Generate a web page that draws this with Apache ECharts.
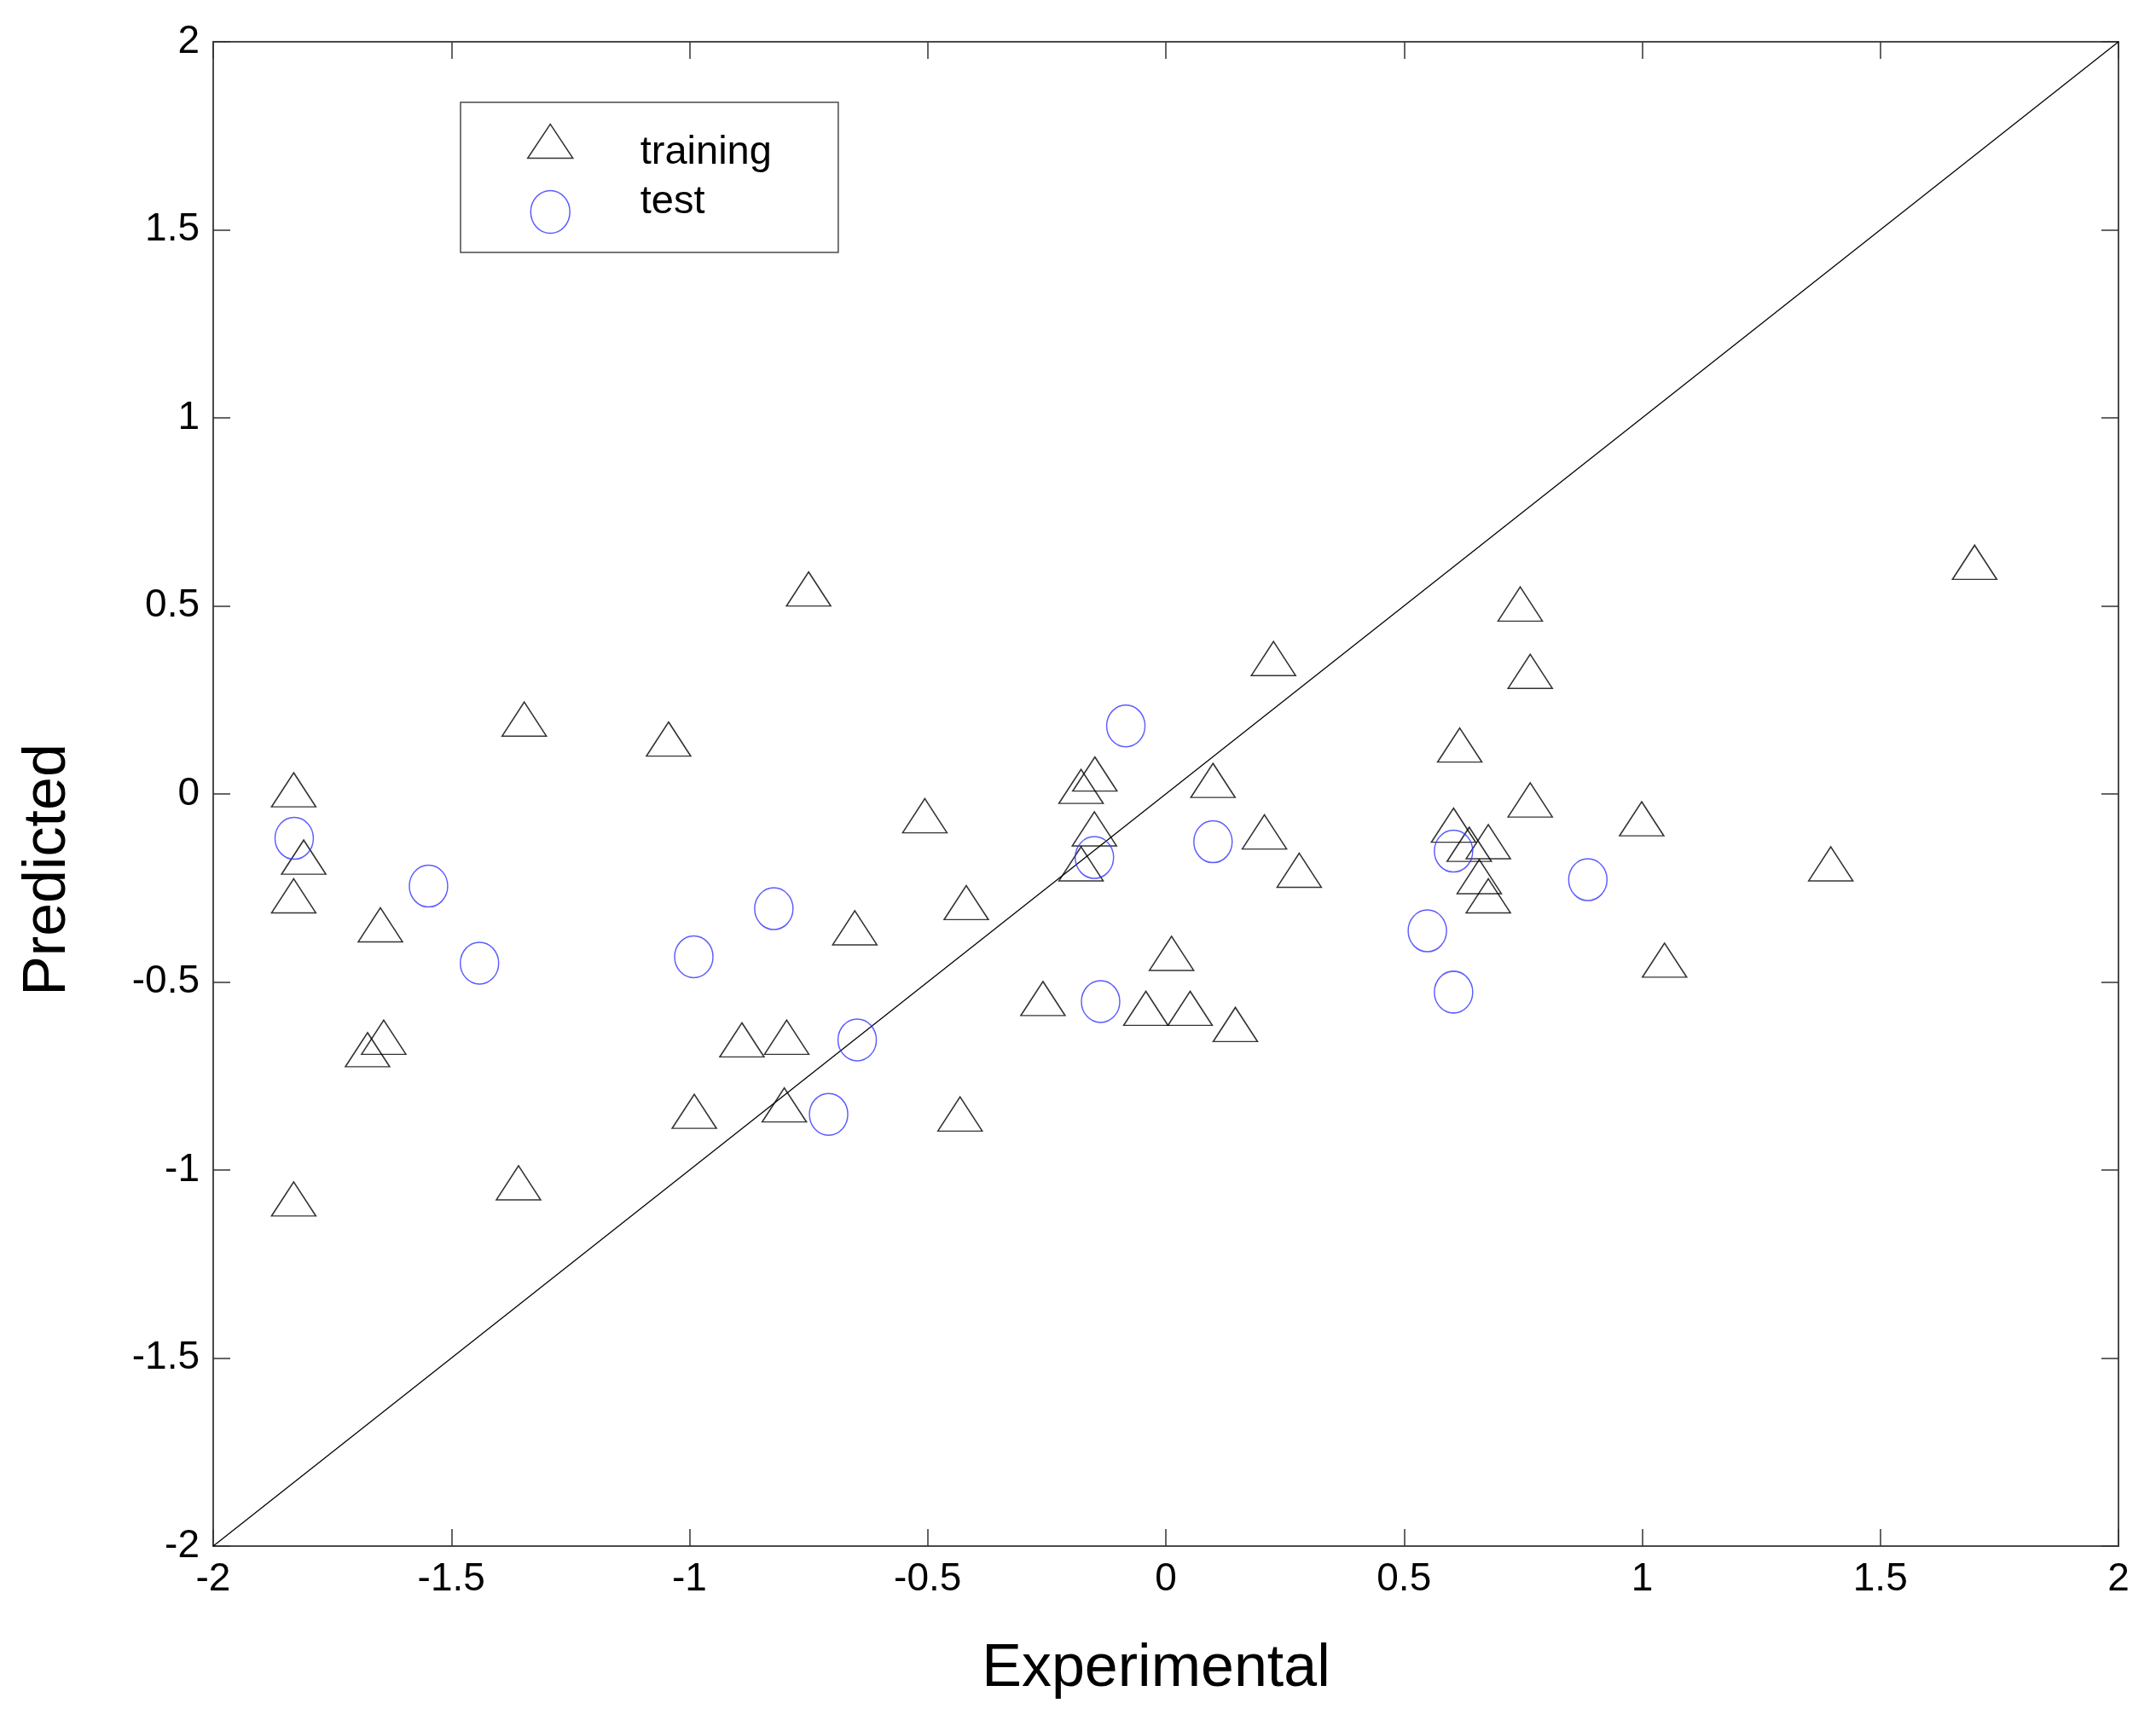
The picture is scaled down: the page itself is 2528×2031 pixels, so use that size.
<!DOCTYPE html>
<html>
<head>
<meta charset="utf-8">
<title>Experimental vs Predicted</title>
<script src="https://cdn.jsdelivr.net/npm/echarts@6/dist/echarts.min.js"></script>
<style>
  html, body { margin: 0; padding: 0; background: #ffffff; }
  #chart { width: 2528px; height: 2031px; }
</style>
</head>
<body>
<div id="chart"></div>
<script>
// ---- data ----
const trainingExperimental = [
  -0.750, -1.347, -1.044, -1.831, -1.810, -1.831, -1.649, -1.676, -1.642, -0.890,
  -0.796, -0.990, -0.801, -1.831, -1.359,  0.226, -0.149, -0.178,  0.099, -0.506,
  -0.150, -0.178,  0.207,  0.280, -0.419, -0.653,  0.012, -0.258, -0.042,  0.051,
   0.146, -0.432,  0.617,  0.604,  0.637,  0.677,  0.658,  0.677,  0.744,  0.765,
   0.765,  0.999,  1.047,  1.396,  1.698
];
const trainingPredicted = [
   0.545,  0.199,  0.146,  0.011, -0.168, -0.271, -0.348, -0.680, -0.647, -0.654,
  -0.647, -0.844, -0.827, -1.077, -1.034,  0.360,  0.053,  0.020,  0.036, -0.058,
  -0.093, -0.186, -0.101, -0.203, -0.289, -0.356, -0.424, -0.544, -0.570, -0.570,
  -0.613, -0.851,  0.130, -0.083, -0.134, -0.127, -0.220, -0.271,  0.505,  0.326,
  -0.016, -0.066, -0.442, -0.186,  0.616
];
const testExperimental = [
  -1.830, -1.548, -1.441, -0.991, -0.823, -0.648, -0.708, -0.084, -0.150,  0.099,
  -0.137,  0.604,  0.549,  0.604,  0.886
];
const testPredicted = [
  -0.118, -0.245, -0.450, -0.433, -0.305, -0.654, -0.852,  0.181, -0.169, -0.127,
  -0.552, -0.152, -0.364, -0.527, -0.228
];
const identityLine = [[-2, -2], [2, 2]];
const axisMin = -2;
const axisMax = 2;
const tickStep = 0.5;
const seriesNames = ['training', 'test'];
const axisTitles = { x: 'Experimental', y: 'Predicted' };

// ---- build ----
const zip = (a, b) => a.map((v, i) => [v, b[i]]);
const FONT = "'Liberation Sans', Arial, Helvetica, sans-serif";
const ELLIPSE = 'path://M0,24.5 A22.5,24.5 0 1,1 45,24.5 A22.5,24.5 0 1,1 0,24.5 Z';
const LEGEND_TRI = 'path://M0,0 M53,50 M0,45 L26.5,5 L53,45 Z';
const frameLine = { show: true, onZero: false, lineStyle: { color: '#4a4a4a', width: 2 } };
const innerTick = { show: true, inside: true, length: 20, lineStyle: { color: '#333333', width: 1.5 } };

function valueAxis(extra) {
  return Object.assign({
    type: 'value', min: axisMin, max: axisMax, interval: tickStep,
    axisLine: frameLine, axisTick: innerTick, splitLine: { show: false }
  }, extra);
}

const legendText = { fontFamily: FONT, fontSize: 47, color: '#000000', lineHeight: 50 };

const chart = echarts.init(document.getElementById('chart'), null, { renderer: 'canvas' });
chart.setOption({
  backgroundColor: '#ffffff',
  animation: false,
  textStyle: { fontFamily: FONT },
  grid: { left: 250, right: 44, top: 49, bottom: 218, containLabel: false },
  legend: {
    orient: 'vertical', left: 540, top: 120,
    padding: [8, 78, 13, 78],
    itemWidth: 201, itemHeight: 50, itemGap: 11,
    borderColor: '#4a4a4a', borderWidth: 1.5, backgroundColor: '#ffffff',
    selectedMode: false,
    formatter: function (name) {
      return name === seriesNames[0] ? '{down|' + name + '}' : '{up|' + name + '}';
    },
    textStyle: {
      fontFamily: FONT, fontSize: 47, color: '#000000',
      rich: {
        down: Object.assign({ padding: [28, 0, 0, 0] }, legendText),
        up: Object.assign({ padding: [0, 0, 22, 0] }, legendText)
      }
    },
    data: [
      { name: seriesNames[0], icon: LEGEND_TRI,
        itemStyle: { color: 'rgba(0,0,0,0)', borderColor: '#000000', borderWidth: 1.5 } },
      { name: seriesNames[1], icon: ELLIPSE,
        itemStyle: { color: 'rgba(0,0,0,0)', borderColor: '#3333ff', borderWidth: 1.5 } }
    ]
  },
  xAxis: [
    valueAxis({
      position: 'bottom',
      axisLabel: { margin: 16, fontSize: 46, lineHeight: 46, color: '#000000', fontFamily: FONT },
      name: axisTitles.x, nameLocation: 'middle', nameGap: 110,
      nameTextStyle: { fontSize: 70, lineHeight: 70, color: '#000000', fontFamily: FONT, padding: [0, 23, 0, 0] }
    }),
    valueAxis({ position: 'top', axisLabel: { show: false } })
  ],
  yAxis: [
    valueAxis({
      position: 'left',
      axisLabel: { margin: 16, fontSize: 46, color: '#000000', fontFamily: FONT },
      name: axisTitles.y, nameLocation: 'middle', nameGap: 158, nameRotate: 90,
      nameTextStyle: { fontSize: 70, lineHeight: 70, color: '#000000', fontFamily: FONT, padding: [0, 178, 0, 0] }
    }),
    valueAxis({ position: 'right', axisLabel: { show: false } })
  ],
  series: [
    {
      type: 'line', name: 'identity', data: identityLine, xAxisIndex: 0, yAxisIndex: 0,
      symbol: 'none', silent: true, z: 1,
      lineStyle: { color: '#000000', width: 1.3 }
    },
    {
      type: 'scatter', name: seriesNames[0], data: zip(trainingExperimental, trainingPredicted),
      xAxisIndex: 0, yAxisIndex: 0, symbol: 'triangle', symbolSize: [52, 40], z: 2,
      itemStyle: { color: 'rgba(0,0,0,0)', borderColor: '#000000', borderWidth: 1.5 }
    },
    {
      type: 'scatter', name: seriesNames[1], data: zip(testExperimental, testPredicted),
      xAxisIndex: 0, yAxisIndex: 0, symbol: ELLIPSE, symbolKeepAspect: false, symbolSize: [45, 49], z: 3,
      itemStyle: { color: 'rgba(0,0,0,0)', borderColor: '#3333ff', borderWidth: 1.5 }
    }
  ]
});
</script>
</body>
</html>
